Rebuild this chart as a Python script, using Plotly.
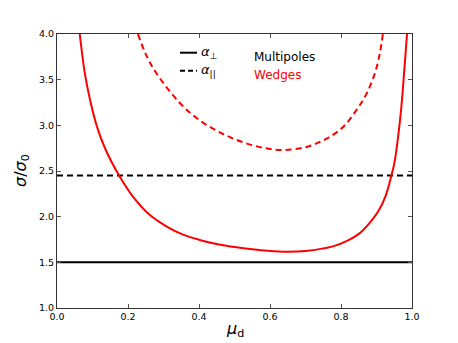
import plotly.graph_objects as go

# Data
mu_mult_perp = [0.0, 1.0]
sig_mult_perp = [1.5, 1.5]
mu_mult_par = [0.0, 1.0]
sig_mult_par = [2.45, 2.45]

mu_wedge_perp = [0.064, 0.078, 0.093, 0.113, 0.134, 0.155, 0.175, 0.214, 0.261, 0.308,
                 0.355, 0.402, 0.449, 0.505, 0.57, 0.637, 0.70, 0.777, 0.82, 0.853, 0.88,
                 0.905, 0.925, 0.942, 0.951, 0.961, 0.970, 0.979, 0.986]
sig_wedge_perp = [4.0, 3.58, 3.28, 2.98, 2.76, 2.59, 2.45, 2.22, 2.02, 1.894,
                  1.803, 1.745, 1.70, 1.664, 1.635, 1.617, 1.625, 1.675, 1.74, 1.82, 1.93,
                  2.06, 2.22, 2.45, 2.6, 2.88, 3.2, 3.64, 4.0]

mu_wedge_par = [0.228, 0.25, 0.28, 0.346, 0.40, 0.46, 0.52, 0.58, 0.637, 0.70, 0.74, 0.768,
                0.806, 0.843, 0.872, 0.895, 0.909, 0.918]
sig_wedge_par = [4.0, 3.78, 3.57, 3.245, 3.06, 2.92, 2.82, 2.755, 2.73, 2.76, 2.818, 2.873,
                 2.982, 3.164, 3.347, 3.566, 3.78, 4.0]

x_ticks = [0.0, 0.2, 0.4, 0.6, 0.8, 1.0]
y_ticks = [1.0, 1.5, 2.0, 2.5, 3.0, 3.5, 4.0]

fig = go.Figure()
fig.add_trace(go.Scatter(x=mu_mult_perp, y=sig_mult_perp, mode="lines",
                         line=dict(color="black", width=2), showlegend=False))
fig.add_trace(go.Scatter(x=mu_mult_par, y=sig_mult_par, mode="lines",
                         line=dict(color="black", width=2, dash="6px,4px"), showlegend=False))
fig.add_trace(go.Scatter(x=mu_wedge_perp, y=sig_wedge_perp, mode="lines",
                         line=dict(color="red", width=2, shape="spline", smoothing=1.0),
                         showlegend=False))
fig.add_trace(go.Scatter(x=mu_wedge_par, y=sig_wedge_par, mode="lines",
                         line=dict(color="red", width=2, dash="6px,4px", shape="spline", smoothing=1.0),
                         showlegend=False))

L, R, T, B = 57, 46, 34, 35
W, H = 458, 343
pw, ph = W - L - R, H - T - B

def px(xp):
    return (xp - L) / pw

def py(yp):
    return 1 - (yp - T) / ph

# Legend (decorative)
fig.add_shape(type="line", xref="paper", yref="paper", x0=px(180), x1=px(197), y0=py(52.7), y1=py(52.7),
              line=dict(color="black", width=2))
fig.add_shape(type="line", xref="paper", yref="paper", x0=px(180), x1=px(197), y0=py(70.7), y1=py(70.7),
              line=dict(color="black", width=2, dash="5px,3px"))
fig.add_annotation(xref="paper", yref="paper", x=px(199), y=py(52), xanchor="left", yanchor="middle",
                   text="<i>α</i><sub>⊥</sub>", showarrow=False,
                   font=dict(family="DejaVu Sans", size=13, color="black"))
fig.add_annotation(xref="paper", yref="paper", x=px(199), y=py(70), xanchor="left", yanchor="middle",
                   text="<i>α</i><sub>||</sub>", showarrow=False,
                   font=dict(family="DejaVu Sans", size=13, color="black"))
fig.add_annotation(xref="paper", yref="paper", x=px(252), y=py(56.5), xanchor="left", yanchor="middle",
                   text="Multipoles", showarrow=False,
                   font=dict(family="DejaVu Sans", size=12, color="black"))
fig.add_annotation(xref="paper", yref="paper", x=px(252), y=py(75), xanchor="left", yanchor="middle",
                   text="Wedges", showarrow=False,
                   font=dict(family="DejaVu Sans", size=12, color="red"))

# Axis titles
fig.add_annotation(xref="paper", yref="paper", x=px(235), y=py(329), xanchor="center", yanchor="middle",
                   text="<i>μ</i><sub>d</sub>", showarrow=False,
                   font=dict(family="DejaVu Sans", size=16, color="black"))
fig.add_annotation(xref="paper", yref="paper", x=px(21), y=py(171), xanchor="center", yanchor="middle",
                   text="<i>σ</i>/<i>σ</i><sub>0</sub>", showarrow=False, textangle=-90,
                   font=dict(family="DejaVu Sans", size=16, color="black"))

axis_common = dict(showgrid=False, zeroline=False, showline=True, linecolor="#333", linewidth=1,
                   mirror="allticks", ticks="inside", ticklen=4, tickcolor="#555", tickwidth=1,
                   tickfont=dict(family="DejaVu Sans", size=9.5, color="black"), tickformat=".1f")

fig.update_xaxes(range=[0, 1], tickvals=x_ticks, **axis_common)
fig.update_yaxes(range=[1, 4], tickvals=y_ticks, **axis_common)

fig.update_layout(width=W, height=H, margin=dict(l=L, r=R, t=T, b=B),
                  plot_bgcolor="white", paper_bgcolor="white", showlegend=False)

fig.write_html("out.html", config={"displayModeBar": False},
               post_script="document.body.style.margin='0';")
